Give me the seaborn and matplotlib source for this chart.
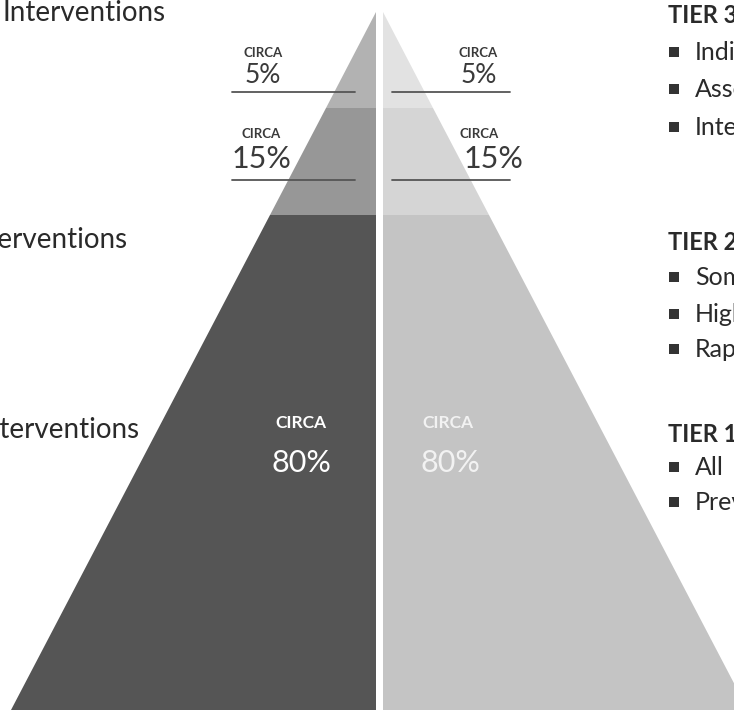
import numpy as np
import pandas as pd
import matplotlib.pyplot as plt
import seaborn as sns

# tiers, top of pyramid first
tiers = ["Tier 3", "Tier 2", "Tier 1"]
shares = [5, 15, 80]
band_edges = [0.0, 0.1375, 0.291, 1.0]   # fraction of pyramid height

left_colors = ["#b2b2b2", "#979797", "#555555"]
right_colors = ["#e2e2e2", "#d5d5d5", "#c4c4c4"]

left_labels = ["Interventions", "Interventions", "Interventions"]

right_heads = ["TIER 3", "TIER 2", "TIER 1"]
right_items = [
    ["Individual", "Assessment", "Intensive"],
    ["Some", "High", "Rapid"],
    ["All", "Preventive"],
]

sns.set_theme(style="white")
plt.rcParams["font.family"] = ["Lato", "DejaVu Sans"]

fig = plt.figure(figsize=(7.34, 7.10), dpi=100)
ax = fig.add_axes([0, 0, 1, 1])
ax.set_xlim(0, 734)
ax.set_ylim(710, 0)
ax.axis("off")

# pyramid layout (pixel-like units)
apex_y, height = 12, 698
half_w = 365
left_inner, right_inner = 376, 383

for i in range(len(tiers)):
    f0, f1 = band_edges[i], band_edges[i + 1]
    y0, y1 = apex_y + f0 * height, apex_y + f1 * height
    ax.fill([left_inner - f0 * half_w, left_inner, left_inner, left_inner - f1 * half_w],
            [y0, y0, y1, y1], color=left_colors[i], lw=0)
    ax.fill([right_inner + f0 * half_w, right_inner, right_inner, right_inner + f1 * half_w],
            [y0, y0, y1, y1], color=right_colors[i], lw=0)

# percentage labels
circa_y = [57, 138, 428]
num_y = [83, 168, 472]
line_y = [92, 180, None]
num_size = [19, 22, 22]
circa_size = [9.5, 9.5, 12.5]
left_cx = [263, 261, 301]
right_cx = [479, 493, 450]
right_circa_cx = [478, 479, 448]
for i, share in enumerate(shares):
    inside = line_y[i] is None
    lc = "white" if inside else "#3a3a3a"
    rc = "#f2f2f2" if inside else "#3a3a3a"
    ax.text(left_cx[i], circa_y[i], "CIRCA", ha="center", va="baseline",
            fontsize=circa_size[i], fontweight="bold", color=lc)
    ax.text(left_cx[i], num_y[i], f"{share}%", ha="center", va="baseline",
            fontsize=num_size[i], color=lc)
    ax.text(right_circa_cx[i], circa_y[i], "CIRCA", ha="center", va="baseline",
            fontsize=circa_size[i], fontweight="bold", color=rc)
    ax.text(right_cx[i], num_y[i], f"{share}%", ha="center", va="baseline",
            fontsize=num_size[i], color=rc)
    if not inside:
        ax.plot([232, 355], [line_y[i]] * 2, color="#555555", lw=1.3)
        ax.plot([392, 510], [line_y[i]] * 2, color="#555555", lw=1.3)

# left side captions (cropped by the frame, as in the source image)
left_end = [166, 128, 140]
left_base = [21, 248, 438]
for txt, x, y in zip(left_labels, left_end, left_base):
    ax.text(x, y, txt, ha="right", va="baseline", fontsize=20, color="#2a2a2a")

# right side tier lists
head_y = [23, 250, 442]
item_y = [[60, 97, 135], [285, 322, 357], [475, 510]]
bx, by = [], []
for head, hy, items, ys in zip(right_heads, head_y, right_items, item_y):
    ax.text(668, hy, head, ha="left", va="baseline", fontsize=17,
            fontweight="bold", color="#2a2a2a")
    for it, y in zip(items, ys):
        ax.text(695, y, it, ha="left", va="baseline", fontsize=18, color="#2a2a2a")
        bx.append(674)
        by.append(y - 8)
sns.scatterplot(x=bx, y=by, marker="s", s=60, color="#333333", edgecolor="none",
                ax=ax, legend=False)

fig.savefig("out.png", dpi=100)
